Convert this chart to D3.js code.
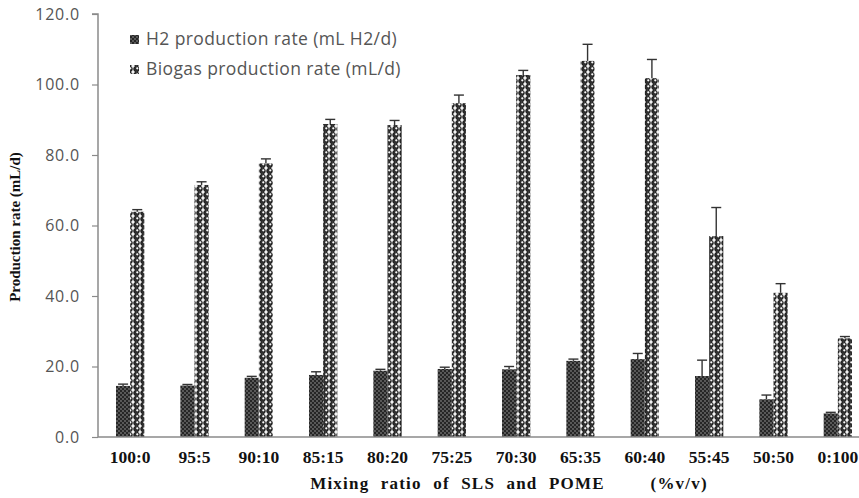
<!DOCTYPE html>
<html>
<head>
<meta charset="utf-8">
<script src="https://cdn.jsdelivr.net/npm/d3@7"></script>
<style>
  html, body { margin: 0; padding: 0; background: #fff; }
  svg { display: block; }
</style>
</head>
<body>
<svg id="chart" width="859" height="498"></svg>
<script>
// Mixing ratios (SLS : POME, %v/v)
const categories = ["100:0", "95:5", "90:10", "85:15", "80:20", "75:25", "70:30", "65:35", "60:40", "55:45", "50:50", "0:100"];
// H2 production rate (mL H2/d) and its error
const h2Rate = [14.5, 14.6, 16.8, 17.6, 18.8, 19.3, 19.2, 21.6, 22.1, 17.3, 10.7, 6.7];
const h2Err = [0.5, 0.3, 0.4, 0.9, 0.4, 0.5, 0.8, 0.5, 1.6, 4.5, 1.2, 0.3];
// Biogas production rate (mL/d) and its error
const biogasRate = [63.9, 71.5, 77.6, 88.8, 88.5, 94.7, 102.7, 106.7, 101.8, 57.0, 40.9, 28.0];
const biogasErr = [0.6, 0.9, 1.3, 1.3, 1.3, 2.3, 1.3, 4.7, 5.3, 8.1, 2.6, 0.5];
const yTicks = [0, 20, 40, 60, 80, 100, 120];
const seriesNames = ["H2 production rate (mL H2/d)", "Biogas production rate (mL/d)"];

const svg = d3.select("#chart");
const m = { left: 98, right: 870, top: 14, bottom: 437 };

const x = d3.scaleBand().domain(categories).range([m.left, m.right]).paddingInner(0.56).paddingOuter(0.28);
const xs = d3.scaleBand().domain([0, 1]).range([0, x.bandwidth()]);
const y = d3.scaleLinear().domain([0, 120]).range([m.bottom, m.top]);

// Fill patterns
const defs = svg.append("defs");
const pH2 = defs.append("pattern").attr("id", "patH2").attr("patternUnits", "userSpaceOnUse")
  .attr("width", 4).attr("height", 4);
pH2.append("rect").attr("width", 4).attr("height", 4).attr("fill", "#262626");
pH2.append("circle").attr("cx", 1).attr("cy", 1).attr("r", 0.9).attr("fill", "#707070");
pH2.append("circle").attr("cx", 3).attr("cy", 3).attr("r", 0.9).attr("fill", "#707070");

const pBio = defs.append("pattern").attr("id", "patBio").attr("patternUnits", "userSpaceOnUse")
  .attr("width", 7).attr("height", 6);
pBio.append("rect").attr("width", 7).attr("height", 6).attr("fill", "#f2f2f2");
pBio.append("circle").attr("cx", 3.5).attr("cy", 3).attr("r", 2.8).attr("fill", "#2e2e2e").attr("stroke", "#0d0d0d").attr("stroke-width", 0.8);
pBio.append("circle").attr("cx", 4.3).attr("cy", 2.3).attr("r", 1.15).attr("fill", "#fafafa");

const fills = ["url(#patH2)", "url(#patBio)"];
const rates = [h2Rate, biogasRate];
const errs = [h2Err, biogasErr];

// Axes
const yAxis = d3.axisLeft(y).tickValues(yTicks).tickFormat(d3.format(".1f")).tickSize(6).tickPadding(12);
const gy = svg.append("g").attr("transform", `translate(${m.left},0)`).call(yAxis);
gy.select(".domain").attr("stroke", "#8a8a8a").attr("stroke-width", 1.5).attr("d", `M-6,${m.top}H0V${m.bottom}`);
gy.selectAll(".tick line").attr("stroke", "#8a8a8a").attr("stroke-width", 1.2);
gy.selectAll(".tick text").attr("fill", "#555").style("font-family", "'Open Sans', sans-serif")
  .style("font-size", "16px").style("letter-spacing", "0.8px");

// Bars
categories.forEach((c, i) => {
  [0, 1].forEach(s => {
    const v = rates[s][i];
    svg.append("rect")
      .attr("x", x(c) + xs(s)).attr("width", xs.bandwidth())
      .attr("y", y(v)).attr("height", y(0) - y(v))
      .attr("fill", fills[s]);
  });
});

// Error bars (upper only)
categories.forEach((c, i) => {
  [0, 1].forEach(s => {
    const cx = x(c) + xs(s) + xs.bandwidth() / 2;
    const v = rates[s][i], e = errs[s][i];
    const g = svg.append("g").attr("stroke", "#333").attr("stroke-width", 1.4);
    g.append("line").attr("x1", cx).attr("x2", cx).attr("y1", y(v)).attr("y2", y(v + e));
    g.append("line").attr("x1", cx - 5).attr("x2", cx + 5).attr("y1", y(v + e)).attr("y2", y(v + e));
  });
});

// X axis baseline and category labels
svg.append("line").attr("x1", m.left).attr("x2", 859).attr("y1", m.bottom).attr("y2", m.bottom)
  .attr("stroke", "#8a8a8a").attr("stroke-width", 1.5);
const xAxis = d3.axisBottom(x).tickSize(0).tickPadding(14);
const gx = svg.append("g").attr("transform", `translate(0,${m.bottom})`).call(xAxis);
gx.select(".domain").remove();
gx.selectAll(".tick text").attr("fill", "#111").style("font-family", "'Liberation Serif', 'Times New Roman', serif")
  .style("font-size", "17.5px").style("font-weight", "bold");

// Axis titles
svg.append("text").attr("x", 509).attr("y", 489).attr("text-anchor", "middle")
  .style("font-family", "'Liberation Serif', serif").style("font-size", "17px").style("font-weight", "bold")
  .style("white-space", "pre").style("letter-spacing", "1.2px").style("word-spacing", "6px").attr("fill", "#111")
  .text("Mixing ratio of SLS and POME    (%v/v)");
svg.append("text").attr("transform", "translate(20,227) rotate(-90)").attr("text-anchor", "middle")
  .style("font-family", "'Liberation Serif', serif").style("font-size", "15px").style("font-weight", "bold")
  .attr("fill", "#111").text("Production rate (mL/d)");

// Legend
const legend = svg.append("g");
seriesNames.forEach((name, i) => {
  const ly = 39 + i * 30;
  legend.append("rect").attr("x", 130).attr("y", ly - 4).attr("width", 9).attr("height", 9).attr("fill", fills[i]);
  legend.append("text").attr("x", 146).attr("y", ly + 6).attr("fill", "#555")
    .style("font-family", "'Open Sans', sans-serif").style("font-size", "17.5px").style("letter-spacing", "0.4px").text(name);
});
</script>
</body>
</html>
